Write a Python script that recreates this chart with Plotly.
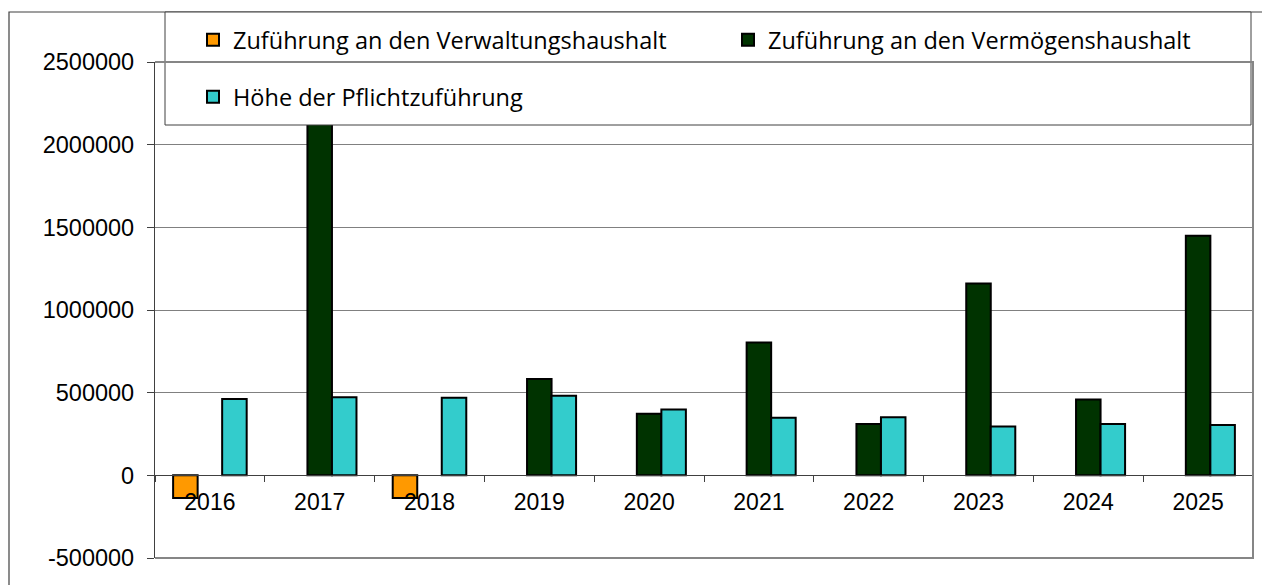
import plotly.graph_objects as go

years = ["2016", "2017", "2018", "2019", "2020", "2021", "2022", "2023", "2024", "2025"]
verwaltung = [-137000, None, -137000, None, None, None, None, None, None, None]
vermoegen = [None, 2200000, None, 583000, 372000, 803000, 311000, 1160000, 458000, 1449000]
pflicht = [462000, 472000, 470000, 482000, 398000, 348000, 351000, 295000, 311000, 305000]

y_tickvals = [-500000, 0, 500000, 1000000, 1500000, 2000000, 2500000]
y_ticktext = ["-500000", "0", "500000", "1000000", "1500000", "2000000", "2500000"]

names = ["Zuführung an den Verwaltungshaushalt",
         "Zuführung an den Vermögenshaushalt",
         "Höhe der Pflichtzuführung"]
colors = ["#FF9900", "#003300", "#33CCCC"]

# page body margin (8px) compensation: figure sits at (8, 8) in the page
OFF = 8
W, H = 1270 - OFF, 585 - OFF
ML, MR, MT, MB = 155 - OFF, 17, 62 - OFF, 27
PW = W - ML - MR
PH = H - MT - MB
PLOT_LEFT = OFF + ML
PLOT_BOTTOM = OFF + H - MB


def px_x(x):
    return (x - PLOT_LEFT) / PW


def px_y(y):
    return (PLOT_BOTTOM - y) / PH


fig = go.Figure()
for vals, name, col, lg in zip([verwaltung, vermoegen, pflicht], names, colors,
                               ["legend", "legend2", "legend3"]):
    fig.add_trace(go.Bar(
        x=years, y=vals, name=name,
        marker=dict(color=col, line=dict(color="#000000", width=2)),
        legend=lg, showlegend=True,
    ))

x_font = dict(family="Liberation Sans, Arial, sans-serif", size=23, color="#000000")
y_font = dict(family="Liberation Sans, Arial, sans-serif", size=23.5, color="#000000")
leg_font = dict(family="Open Sans, sans-serif", size=23.5, color="#000000")


def leg(xp, yp):
    return dict(orientation="h", x=px_x(xp), y=px_y(yp), xanchor="left", yanchor="middle",
                bgcolor="rgba(0,0,0,0)", borderwidth=0, font=leg_font)


frame_path = "M{l},{b} L{l},{t} L{r},{t}".format(
    l=px_x(9), b=px_y(600), t=px_y(12), r=px_x(1275))

fig.update_layout(
    width=W, height=H, autosize=False, showlegend=True,
    margin=dict(l=ML, r=MR, t=MT, b=MB, pad=0, autoexpand=False),
    paper_bgcolor="#FFFFFF", plot_bgcolor="#FFFFFF",
    barmode="group", bargap=0.33, bargroupgap=0,
    xaxis=dict(
        type="category", anchor="free", position=1/6,
        showline=True, linecolor="#404040", linewidth=1.2,
        ticks="outside", tickson="boundaries", ticklen=6, tickcolor="#404040",
        showgrid=False, tickfont=x_font, ticklabelstandoff=6,
    ),
    yaxis=dict(
        range=[-500000, 2500000], tickvals=y_tickvals, ticktext=y_ticktext,
        showgrid=True, gridcolor="#808080", gridwidth=1,
        showline=True, linecolor="#404040", linewidth=1.2,
        ticks="outside", ticklen=7, tickcolor="#404040",
        zeroline=False, tickfont=y_font, ticklabelstandoff=8,
    ),
    legend=leg(193, 40),
    legend2=leg(728, 40),
    legend3=leg(193, 97),
    shapes=[
        # outer chart frame (left and top edges; the rest runs off the picture)
        dict(type="path", xref="paper", yref="paper", path=frame_path,
             line=dict(color="#404040", width=1.2), layer="above"),
        # legend box
        dict(type="rect", xref="paper", yref="paper",
             x0=px_x(165), x1=px_x(1251), y0=px_y(125), y1=px_y(12),
             line=dict(color="#404040", width=1), fillcolor="#FFFFFF", layer="above"),
        # plot-area border: top, right, bottom
        dict(type="path", xref="paper", yref="paper",
             path="M0,1 L1,1 L1,0 L0,0",
             line=dict(color="#868686", width=2), layer="above"),
    ],
)

fig.write_html("out.html")
